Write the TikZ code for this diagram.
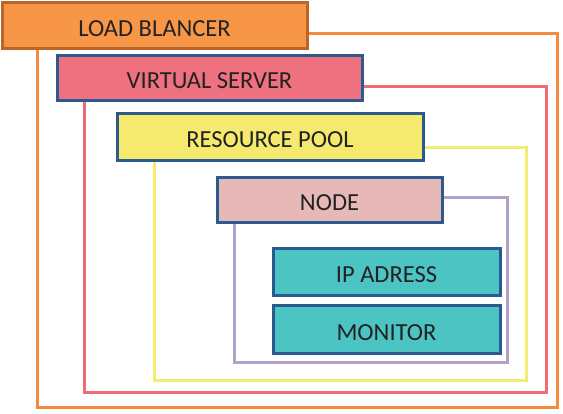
\documentclass[tikz,border=0pt]{standalone}
\usepackage{fontspec}
\setmainfont{Carlito}
\definecolor{lborange}{HTML}{F79646}
\definecolor{lbborder}{HTML}{B8662A}
\definecolor{frameorange}{HTML}{F58A3C}
\definecolor{boxblue}{HTML}{2B5B8E}
\definecolor{vsfill}{HTML}{EF7180}
\definecolor{framered}{HTML}{F06A78}
\definecolor{rpfill}{HTML}{F6EA6E}
\definecolor{frameyellow}{HTML}{F5EB6C}
\definecolor{nodefill}{HTML}{E6B8B8}
\definecolor{framepurple}{HTML}{B2A2C8}
\definecolor{tealfill}{HTML}{4CC4C4}
\definecolor{textdark}{HTML}{222222}
\tikzset{
  layerbox/.style={draw=boxblue, line width=3pt, rectangle, inner sep=0pt,
    text=textdark, font=\fontsize{24.5}{28}\selectfont,
    text height=22.8pt, text depth=0pt},
  frameline/.style={line width=3pt}
}
\begin{document}
\begin{tikzpicture}[x=1pt,y=-1pt]
\useasboundingbox (0,0) rectangle (563,413);
% frames
\draw[frameline, draw=frameorange] (37,33) rectangle (557,407);
\draw[frameline, draw=framered] (84,86) rectangle (546,392);
\draw[frameline, draw=frameyellow] (154,147) rectangle (526,380);
\draw[frameline, draw=framepurple] (234,197) rectangle (507,362);
% boxes
\node[layerbox, draw=lbborder, fill=lborange, minimum width=305pt, minimum height=46pt] (lb) at (154.5,25) {LOAD BLANCER};
\node[layerbox, fill=vsfill, minimum width=305pt, minimum height=45pt] (vs) at (209.5,77.5) {VIRTUAL SERVER};
\node[layerbox, fill=rpfill, minimum width=306pt, minimum height=47pt] (rp) at (270,136.5) {RESOURCE POOL};
\node[layerbox, fill=nodefill, minimum width=225pt, minimum height=45pt] (nd) at (329.5,199.5) {NODE};
\node[layerbox, fill=tealfill, minimum width=227pt, minimum height=47pt] (ip) at (386.5,271.5) {IP ADRESS};
\node[layerbox, fill=tealfill, minimum width=227pt, minimum height=48pt] (mon) at (386.5,329) {MONITOR};
\end{tikzpicture}
\end{document}
